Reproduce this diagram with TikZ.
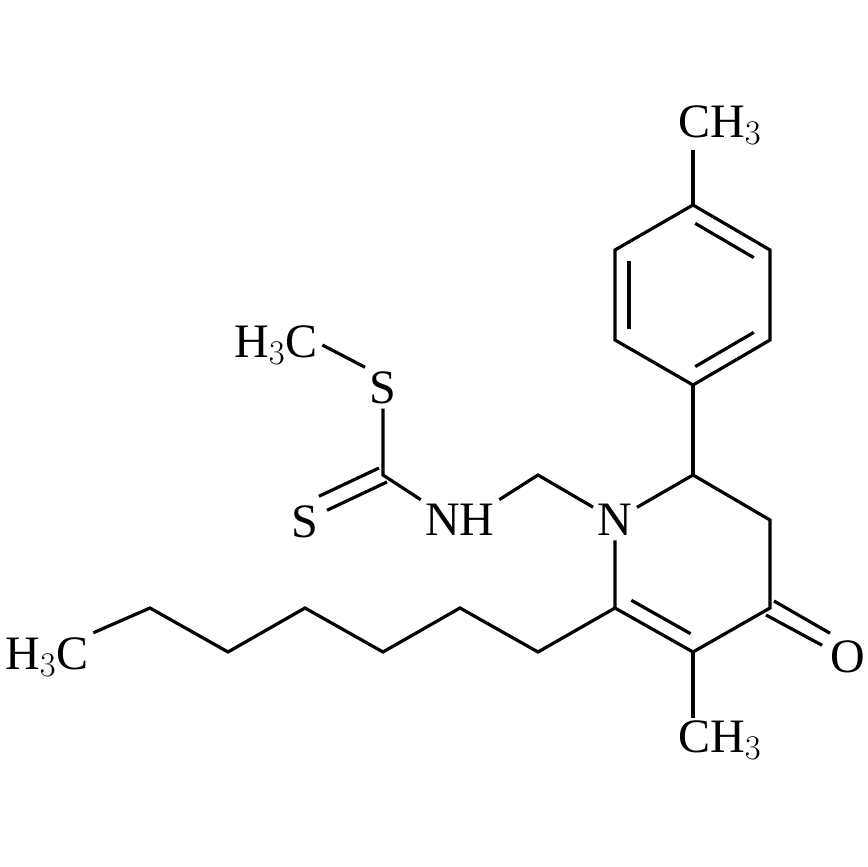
\documentclass[tikz,border=0pt]{standalone}
\usepackage{fontspec}
\setmainfont{Liberation Serif}
\usetikzlibrary{calc}
\begin{document}
\begin{tikzpicture}[x=0.5pt,y=-0.5pt,line width=1.6pt,
 lab/.style={font=\fontsize{24}{24}\selectfont,inner sep=1.5pt}]
\useasboundingbox (0,0) rectangle (867,867);
% ring
\node[lab] (N) at (615,520) {N};
\coordinate (c2) at (693,475);
\coordinate (c3) at (770,520);
\coordinate (c4) at (770,608);
\coordinate (c5) at (693,652);
\coordinate (c6) at (615,608);
\node[lab] (O) at (848,657) {O};
\node[lab] (me5) at (720,740) {CH$_3$};
\draw (N) -- (c2) -- (c3) -- (c4) -- (c5) -- (c6) -- (N);
\draw ($(c6)!0.12!(c5)+(7,-13)$) -- ($(c5)!0.12!(c6)+(7,-13)$);
\draw ($(c4)+(-4,7)$) -- ($(O.north west)+(-4,9)$);
\draw ($(c4)+(4,-7)$) -- ($(O.north west)+(4,-3)$);
\draw (c5) -- (693,718);
% phenyl
\coordinate (p1) at (693,385);
\coordinate (p2) at (615,340);
\coordinate (p3) at (615,250);
\coordinate (p4) at (693,205);
\coordinate (p5) at (770,250);
\coordinate (p6) at (770,340);
\draw (c2) -- (p1);
\draw (p1) -- (p2) -- (p3) -- (p4) -- (p5) -- (p6) -- cycle;
\draw ($(p2)!0.12!(p3)+(14,0)$) -- ($(p3)!0.12!(p2)+(14,0)$);
\draw ($(p4)!0.12!(p5)+(-7,13)$) -- ($(p5)!0.12!(p4)+(-7,13)$);
\draw ($(p6)!0.12!(p1)+(-7,-13)$) -- ($(p1)!0.12!(p6)+(-7,-13)$);
\node[lab] (me4) at (720,125) {CH$_3$};
\draw (p4) -- (693,150);
% side chain
\coordinate (ch2) at (538,475);
\node[lab] (NH) at (460,520) {NH};
\coordinate (cs) at (383,475);
\node[lab] (S1) at (305,522) {S};
\node[lab] (S2) at (383,388) {S};
\node[lab] (me1) at (276,345) {H$_3$C};
\draw (N) -- (ch2) -- (NH.north east);
\draw (NH.north west) -- (cs) -- (S2);
\draw ($(cs)+(-4,-7)$) -- ($(S1.north east)+(-4,-5)$);
\draw ($(cs)+(4,7)$) -- ($(S1.north east)+(4,9)$);
\draw (S2.north west) -- (me1.east);
% heptyl
\coordinate (h1) at (538,652);
\coordinate (h2) at (460,608);
\coordinate (h3) at (383,652);
\coordinate (h4) at (305,608);
\coordinate (h5) at (228,652);
\coordinate (h6) at (150,608);
\node[lab] (me7) at (47,657) {H$_3$C};
\draw (c6) -- (h1) -- (h2) -- (h3) -- (h4) -- (h5) -- (h6) -- (me7.north east);
\end{tikzpicture}
\end{document}
